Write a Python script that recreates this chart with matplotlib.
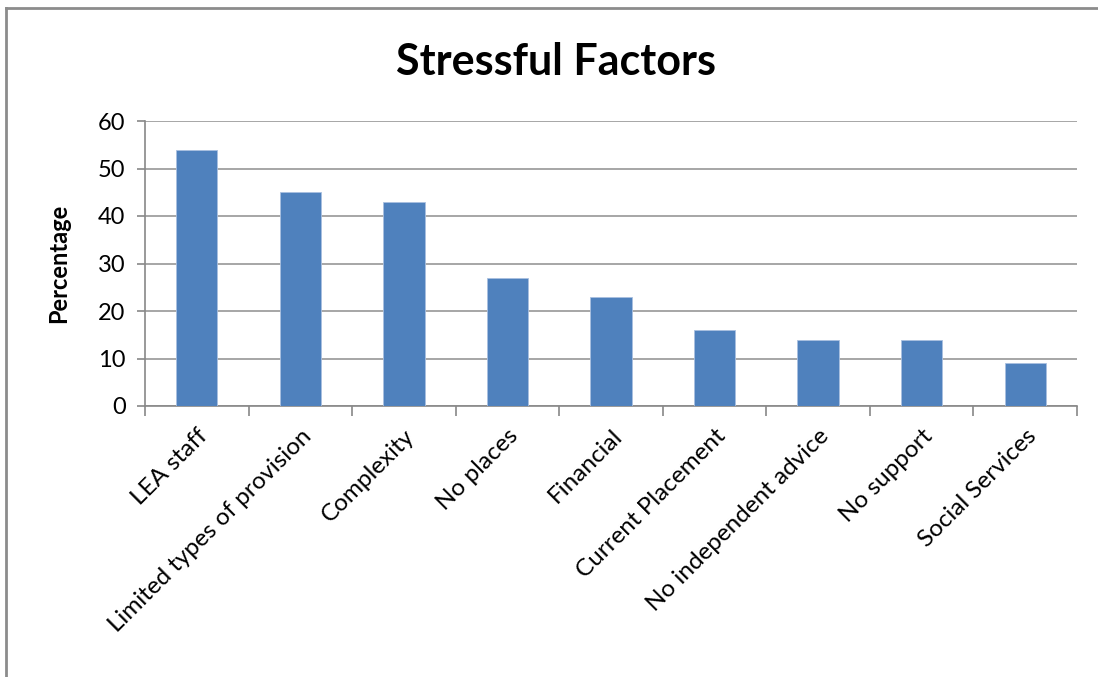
import matplotlib.pyplot as plt
from matplotlib.lines import Line2D

categories = ["LEA staff", "Limited types of provision", "Complexity", "No places",
              "Financial", "Current Placement", "No independent advice",
              "No support", "Social Services"]
percentages = [54, 45, 43, 27, 23, 16, 14, 14, 9]

plt.rcParams['font.family'] = ['Lato', 'DejaVu Sans']

fig = plt.figure(figsize=(10.98, 6.77), dpi=100)
ax = fig.add_axes([145 / 1098, 1 - 406 / 677, (1077 - 145) / 1098, (406 - 121) / 677])

x = range(len(categories))
ax.bar(x, percentages, width=0.4, color="#4f81bd", edgecolor="#a9c0e0", linewidth=0.6, zorder=3)

ax.set_xlim(-0.5, len(categories) - 0.5)
ax.set_ylim(0, 60)
ax.set_yticks(range(0, 61, 10))
ax.grid(axis="y", color="#a6a6a6", linewidth=1.4, zorder=0)

ax.set_xticks([i + 0.5 for i in range(-1, len(categories))], minor=False)
ax.set_xticklabels([])
ax.set_xticks(list(x), minor=True)
ax.set_xticklabels(categories, minor=True, rotation=45, ha="right", rotation_mode="anchor", fontsize=17.5)
ax.tick_params(axis="x", which="minor", length=0, pad=14)
ax.tick_params(axis="x", which="major", length=7, color="#888888", width=1.2)
ax.tick_params(axis="y", length=6, color="#888888", width=1.2, labelsize=17, pad=8)

for side in ["top", "right"]:
    ax.spines[side].set_visible(False)
for side in ["left", "bottom"]:
    ax.spines[side].set_color("#888888")
    ax.spines[side].set_linewidth(1.2)

ax.set_ylabel("Percentage", fontsize=17, fontweight="bold", labelpad=20)
fig.text(556 / 1098, 1 - 62 / 677, "Stressful Factors", fontsize=31, fontweight="bold",
         ha="center", va="center")

# chart frame
fig.add_artist(Line2D([6 / 1098, 6 / 1098], [0, 1 - 8 / 677], color="#8c8c8c", linewidth=2,
                      transform=fig.transFigure))
fig.add_artist(Line2D([6 / 1098, 1], [1 - 8 / 677, 1 - 8 / 677], color="#8c8c8c", linewidth=2,
                      transform=fig.transFigure))

fig.savefig("out.png", dpi=100)
